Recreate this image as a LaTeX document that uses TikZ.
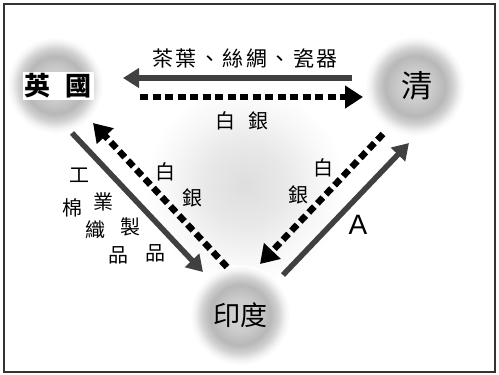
\documentclass[tikz,border=0pt]{standalone}
\usepackage{fontspec}
\setmainfont{Liberation Sans}
\newfontfamily\cjk{Noto Sans CJK TC}
\newfontfamily\cjkls[LetterSpace=12]{Noto Sans CJK TC}
\usetikzlibrary{arrows.meta}
\pgfdeclareradialshading{glow}{\pgfpoint{0bp}{0bp}}{color(0bp)=(black!17); color(8bp)=(black!20); color(15bp)=(black!28); color(19bp)=(black!18); color(22.5bp)=(black!5); color(25bp)=(white); color(50bp)=(white)}
\pgfdeclareradialshading{softglow}{\pgfpoint{0bp}{0bp}}{color(0bp)=(black!13); color(10bp)=(black!9); color(19bp)=(black!3); color(25bp)=(white); color(50bp)=(white)}
\definecolor{solidgray}{HTML}{404040}
\tikzset{
  goods/.style={draw=solidgray, line width=5.5pt, -{Triangle[length=16pt,width=19pt]}},
  silver/.style={draw=black, line width=6.5pt, dash pattern=on 8pt off 4.5pt, -{Triangle[length=18pt,width=22pt]}},
  lbl/.style={font=\cjk\fontsize{20pt}{20pt}\selectfont, inner sep=0pt},
  place/.style={font=\cjk\fontsize{27pt}{27pt}\selectfont, inner sep=0pt},
}
\begin{document}
\begin{tikzpicture}[x=1pt,y=-1pt]
\useasboundingbox (0,0) rectangle (499,375);
\fill[white] (0,0) rectangle (499,375);
% glows
\shade[shading=softglow] (245,185) circle (100);
\shade[shading=glow] (55,85) circle (48);
\shade[shading=glow] (415,86) circle (50);
\shade[shading=glow] (240,315) circle (50);
\draw[black!80, line width=1.2pt] (4,4) rectangle (495,372);
% places
\node[place, font=\cjk\bfseries\fontsize{26pt}{26pt}\selectfont, fill=white, inner xsep=2pt, inner ysep=2pt] (uk) at (58,86) {英\hspace{15pt}國};
\node[place, font=\cjk\fontsize{31pt}{31pt}\selectfont] (qing) at (417,86) {清};
\node[place] (india) at (240,315) {印度};
% endpoints
\coordinate (ts1) at (352,78);  \coordinate (ts2) at (123,78);
\coordinate (td1) at (140,97);  \coordinate (td2) at (363,97);
\coordinate (ls1) at (72,133);  \coordinate (ls2) at (203,272);
\coordinate (ld1) at (227,267); \coordinate (ld2) at (93,123);
\coordinate (rd1) at (383,134); \coordinate (rd2) at (260,264);
\coordinate (rs1) at (283,275); \coordinate (rs2) at (409,143);
% connectors
\draw[goods] (ts1) -- (ts2);
\draw[silver] (td1) -- (td2);
\draw[goods] (ls1) -- (ls2);
\draw[silver] (ld1) -- (ld2);
\draw[silver] (rd1) -- (rd2);
\draw[goods] (rs1) -- (rs2);
% labels
\node[lbl, font=\cjkls\fontsize{21pt}{21pt}\selectfont] (tea) at (245,58) {茶葉、絲綢、瓷器};
\node[lbl] (silvtop) at (242,121) {白\hspace{13pt}銀};
\node[lbl] (g1) at (80,175) {工};
\node[lbl] (g2) at (103,202) {業};
\node[lbl] (g3) at (130,227) {製};
\node[lbl] (g4) at (155,253) {品};
\node[lbl] (c1) at (72,208) {棉};
\node[lbl] (c2) at (95,230) {織};
\node[lbl] (c3) at (118,255) {品};
\node[lbl] (sl1) at (165,172) {白};
\node[lbl] (sl2) at (192,198) {銀};
\node[lbl] (sr1) at (323,168) {白};
\node[lbl] (sr2) at (298,195) {銀};
\node[inner sep=0pt, font=\fontsize{28pt}{28pt}\selectfont] (a) at (358,225) {A};
\end{tikzpicture}
\end{document}
